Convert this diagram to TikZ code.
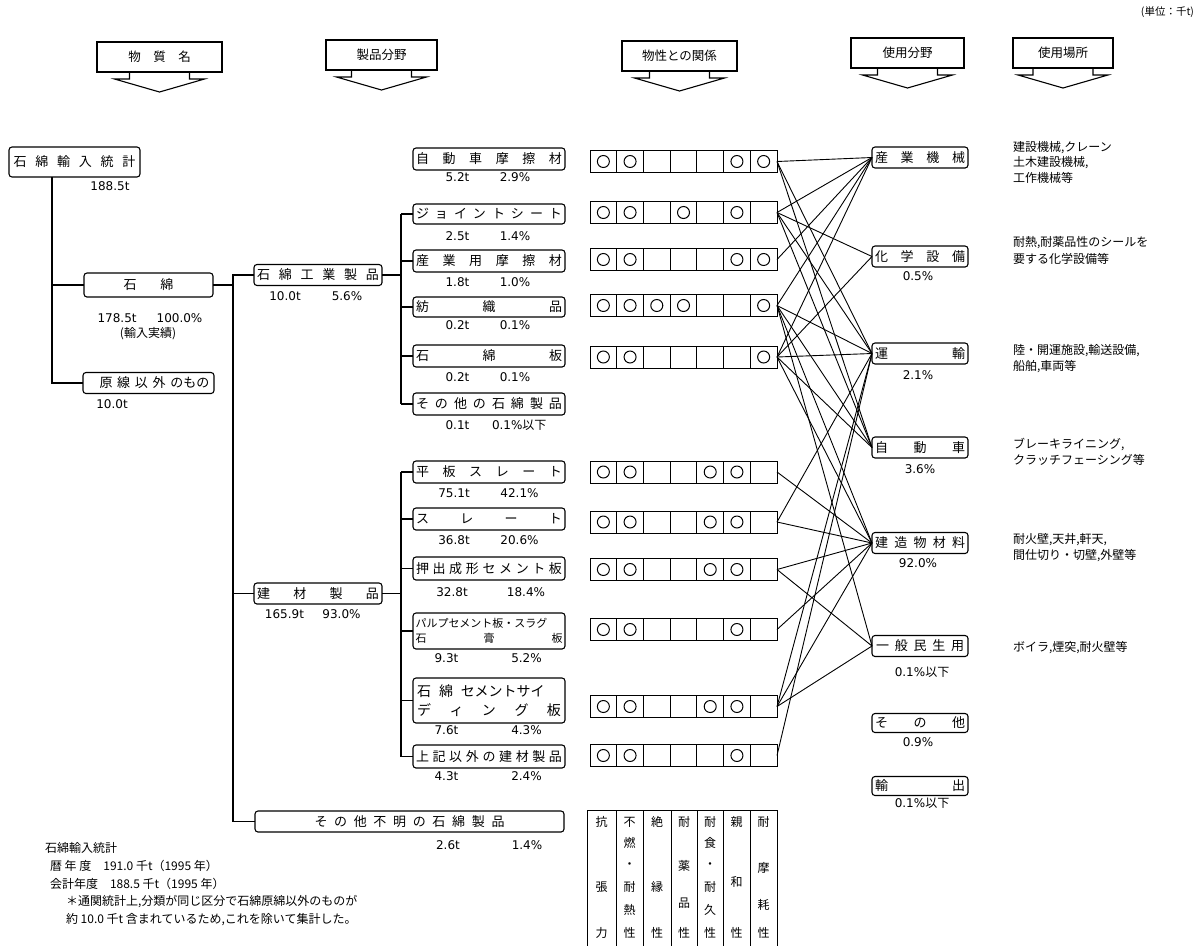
\documentclass[tikz,border=0pt]{standalone}
\usepackage{fontspec}
\setmainfont{Noto Sans CJK JP}
\newfontfamily\vf{DejaVu Sans}
\newcommand{\spr}[2]{\makebox[#1pt][s]{#2}}
\newcommand{\prow}[3]{%
  \node[rowbox] (#1) at (683.5,#2) {};
  \foreach \i in {1,...,6} \draw[grid] ([xshift={\i*26.714pt}]#1.south west) -- ([xshift={\i*26.714pt}]#1.north west);
  \foreach \c in {#3} \draw[grid] ([xshift={(\c-0.5)*26.714pt}]#1.west) circle[radius=6pt];
}
\begin{document}
\begin{tikzpicture}[x=1pt,y=-1pt,
  every node/.style={inner sep=0pt, outer sep=0pt},
  rbox/.style={draw, rounded corners=3pt, line width=1.1pt, font=\fontsize{13}{15}\selectfont, minimum height=21pt},
  pbox/.style={rbox, minimum width=152pt},
  ubox/.style={rbox, minimum width=96pt},
  hbox/.style={draw, line width=1.1pt, font=\fontsize{12.5}{14}\selectfont, minimum height=30pt},
  num/.style={font=\vf\fontsize{12}{14}\selectfont},
  jt/.style={font=\fontsize{12}{14}\selectfont, anchor=west},
  tc/.style={font=\fontsize{12}{14}\selectfont},
  ln/.style={line width=1.1pt},
  cl/.style={line width=0.9pt},
  grid/.style={line width=1pt},
  rowbox/.style={draw, grid, minimum width=187pt, minimum height=22pt},
]
\useasboundingbox (0,0) rectangle (1198,946);
\fill[white] (0,0) rectangle (1198,946);

\node[font=\fontsize{10.5}{12}\selectfont, anchor=east] (unit) at (1194,12) {(単位：千t)};

% header boxes and arrows
\node[hbox, minimum width=125pt] (h1) at (159.5,57) {物　質　名};
\node[hbox, minimum width=111pt] (h2) at (381.5,55) {製品分野};
\node[hbox, minimum width=115pt] (h3) at (679.5,56) {物性との関係};
\node[hbox, minimum width=113pt] (h4) at (907.5,53) {使用分野};
\node[hbox, minimum width=100pt] (h5) at (1063,53) {使用場所};
\foreach \h in {h1,h2,h3,h4,h5}
  \draw[ln, line join=miter] ([xshift=-30pt]\h.south) -- ++(0,7) -- ++(-15,0) -- ++(45,13) -- ++(45,-13) -- ++(-15,0) -- ++(0,-7);

% tree
\coordinate (va) at (52,0);
\coordinate (vb) at (233,0);
\coordinate (vc) at (401,0);

\node[rbox, minimum width=131pt, minimum height=30pt] (n0) at (74.5,162) {\spr{122}{石 綿 輸 入 統 計}};
\node[num] (n0v) at (110,186) {188.5t};
\node[rbox, minimum width=129pt, minimum height=24pt] (n1) at (148.5,285) {石\hspace{24pt}綿};
\node[num] (n1v) at (150,318) {178.5t\hspace{20pt}100.0\%};
\node[tc] (n1w) at (148,334) {(輸入実績)};
\node[rbox, minimum width=131pt] (n2) at (148.5,383) {\hspace{12pt}\spr{110}{原 線 以 外 のもの}};
\node[num] (n2v) at (112,404) {10.0t};

\draw[ln] (n0.south -| va) |- (n1.west);
\draw[ln] (n0.south -| va) |- (n2.west);

\node[rbox, minimum width=128pt] (m1) at (318,275) {\spr{122}{石 綿 工 業 製 品}};
\node[num] at (285,296) {10.0t};
\node[num] at (347,296) {5.6\%};
\node[rbox, minimum width=128pt] (m2) at (318,593.5) {\spr{122}{建 材 製 品}};
\node[num] at (284.5,614) {165.9t};
\node[num] at (341.5,614) {93.0\%};
\node[rbox, minimum width=309pt] (m3) at (409.5,821.5) {\spr{190}{そ の 他 不 明 の 石 綿 製 品}};
\node[num] at (448,845) {2.6t};
\node[num] at (527,845) {1.4\%};

\draw[ln] (n1.east) -- (n1.east -| vb);
\draw[ln] (m1.west) -- (m1.west -| vb) -- (m3.west -| vb) -- (m3.west);
\draw[ln] (m2.west) -- (m2.west -| vb);

% product boxes
\node[pbox, minimum height=22pt] (s1) at (489,159) {\spr{146}{自 動 車 摩 擦 材}};
\node[pbox, minimum height=20pt] (s2) at (489,214) {\spr{146}{ジ ョ イ ン ト シ ー ト}};
\node[pbox, minimum height=22pt] (s3) at (489,261) {\spr{146}{産 業 用 摩 擦 材}};
\node[pbox, minimum height=20pt] (s4) at (489,307) {\spr{146}{紡 織 品}};
\node[pbox, minimum height=22pt] (s5) at (489,356) {\spr{146}{石 綿 板}};
\node[pbox, minimum height=22pt] (s6) at (489,404) {\spr{146}{そ の 他 の 石 綿 製 品}};

\node[pbox, minimum height=22pt] (b1) at (489,472) {\spr{146}{平 板 ス レ ー ト}};
\node[pbox, minimum height=22pt] (b2) at (489,519) {\spr{146}{ス レ ー ト}};
\node[pbox, minimum height=23pt] (b3) at (489,568.5) {\spr{146}{押 出 成 形 セ メ ン ト 板}};
\node[pbox, minimum height=36pt, align=left, font=\fontsize{11}{15}\selectfont] (b4) at (489,631) {\spr{147}{パルプセメント板・スラグ}\\\spr{147}{石 膏 板}};
\node[pbox, minimum height=45pt, align=left, font=\fontsize{14}{19}\selectfont] (b5) at (489,700.5) {石\hspace{8pt}綿\hspace{8pt}セメントサイ\\\spr{144}{デ ィ ン グ 板}};
\node[pbox, minimum height=23pt] (b6) at (489,756.5) {\spr{146}{上 記 以 外 の 建 材 製 品}};

\draw[ln] (m1.east) -- (m1.east -| vc);
\draw[ln] (s2.west -| vc) -- (s6.west -| vc);
\foreach \s in {s2,s3,s4,s5,s6} \draw[ln] (\s.west -| vc) -- (\s.west);
\draw[ln] (m2.east) -- (m2.east -| vc);
\draw[ln] (b1.west -| vc) -- (b6.west -| vc);
\foreach \s in {b1,b2,b3,b4,b5,b6} \draw[ln] (\s.west -| vc) -- (\s.west);

% product labels
\foreach \y/\a/\b in {177/5.2t/2.9\%, 236/2.5t/1.4\%, 282/1.8t/1.0\%, 325/0.2t/0.1\%, 377/0.2t/0.1\%} {
  \node[num] at (457.5,\y) {\a};
  \node[num] at (515,\y) {\b};
}
\node[num] at (457.5,425) {0.1t};
\node[num, anchor=west] at (492,425) {0.1\%\fontspec{Noto Sans CJK JP}以下};
\foreach \y/\a/\b in {493/75.1t/42.1\%, 540/36.8t/20.6\%} {
  \node[num] at (454,\y) {\a};
  \node[num] at (519.5,\y) {\b};
}
\node[num] at (452,592) {32.8t};
\node[num] at (526,592) {18.4\%};
\foreach \y/\a/\b in {658/9.3t/5.2\%, 730/7.6t/4.3\%, 776/4.3t/2.4\%} {
  \node[num] at (446.5,\y) {\a};
  \node[num] at (526.5,\y) {\b};
}

% property rows
\prow{r1}{161.5}{1,2,6,7}
\prow{r2}{212.5}{1,2,4,6}
\prow{r3}{259.5}{1,2,6,7}
\prow{r4}{305.5}{1,2,3,4,7}
\prow{r5}{357}{1,2,7}
\prow{r6}{472}{1,2,5,6}
\prow{r7}{522}{1,2,5,6}
\prow{r8}{569.5}{1,2,5,6}
\prow{r9}{629.5}{1,2,6}
\prow{r10}{706.5}{1,2,5,6}
\prow{r11}{755.5}{1,2,6}

% usage boxes
\node[ubox] (u1) at (920,157.5) {\spr{90}{産 業 機 械}};
\node[ubox] (u2) at (920,256.5) {\spr{90}{化 学 設 備}};
\node[ubox] (u3) at (920,353.5) {\spr{90}{運 輸}};
\node[ubox] (u4) at (920,447.5) {\spr{90}{自 動 車}};
\node[ubox] (u5) at (920,543) {\spr{90}{建 造 物 材 料}};
\node[ubox] (u6) at (920,646) {\spr{88}{一 般 民 生 用}};
\node[ubox, minimum height=19pt] (u7) at (920,723) {\spr{90}{そ の 他}};
\node[ubox, minimum height=19pt] (u8) at (920,786) {\spr{90}{輸 出}};
\node[num] at (918,276) {0.5\%};
\node[num] at (918,375) {2.1\%};
\node[num] at (920,469) {3.6\%};
\node[num] at (918,563) {92.0\%};
\node[num] at (922,672) {0.1\%\fontspec{Noto Sans CJK JP}以下};
\node[num] at (918,742) {0.9\%};
\node[num] at (922,803) {0.1\%\fontspec{Noto Sans CJK JP}以下};

% connectors
\foreach \a/\b in {r1/u1, r1/u3, r1/u4,
                   r2/u1, r2/u2, r2/u3, r2/u4,
                   r3/u1,
                   r4/u1, r4/u3, r4/u4, r4/u5, r4/u6,
                   r5/u1, r5/u2, r5/u3, r5/u4, r5/u5,
                   r6/u5,
                   r7/u5, r7/u3,
                   r8/u5, r8/u6,
                   r9/u5,
                   r10/u5, r10/u6, r10/u3,
                   r11/u3}
  \draw[cl] (\a.east) -- (\b.west);

% usage places
\node[jt] (p1) at (1013,148) {建設機械,クレーン};
\node[jt] (p1b) at (1013,163) {土木建設機械,};
\node[jt] (p1c) at (1013,178) {工作機械等};
\node[jt] (p2) at (1013,243) {耐熱,耐薬品性のシールを};
\node[jt] (p2b) at (1013,259) {要する化学設備等};
\node[jt] (p3) at (1013,351) {陸・開運施設,輸送設備,};
\node[jt] (p3b) at (1013,367) {船舶,車両等};
\node[jt] (p4) at (1013,444) {ブレーキライニング,};
\node[jt] (p4b) at (1013,460) {クラッチフェーシング等};
\node[jt] (p5) at (1013,540) {耐火壁,天井,軒天,};
\node[jt] (p5b) at (1013,556) {間仕切り・切壁,外壁等};
\node[jt] (p6) at (1013,648) {ボイラ,煙突,耐火壁等};

% notes
\node[jt] (t1) at (45,848) {石綿輸入統計};
\node[jt] (t2) at (50,866) {暦 年 度　191.0 千t（1995 年）};
\node[jt] (t3) at (50,884) {会計年度　188.5 千t（1995 年）};
\node[jt] (t4) at (66,902) {＊通関統計上,分類が同じ区分で石綿原綿以外のものが};
\node[jt] (t5) at (66,920) {約 10.0 千t 含まれているため,これを除いて集計した。};

% property header table
\draw[grid] (587,810) -- (777,810);
\foreach \x in {587,616,643,671,697,723,750,777} \draw[grid] (\x,810) -- (\x,946);
\foreach \x/\y/\c in {601.5/822/抗, 601.5/887/張, 601.5/933/力,
  629.5/822/不, 629.5/843/燃, 629.5/866/・, 629.5/887/耐, 629.5/910/熱, 629.5/933/性,
  657/822/絶, 657/887/縁, 657/933/性,
  684/822/耐, 684/866/薬, 684/903/品, 684/933/性,
  710/822/耐, 710/843/食, 710/866/・, 710/887/耐, 710/910/久, 710/933/性,
  736.5/822/親, 736.5/882/和, 736.5/933/性,
  763.5/822/耐, 763.5/868/摩, 763.5/905/耗, 763.5/933/性}
  \node[tc] at (\x,\y) {\c};
\end{tikzpicture}
\end{document}
